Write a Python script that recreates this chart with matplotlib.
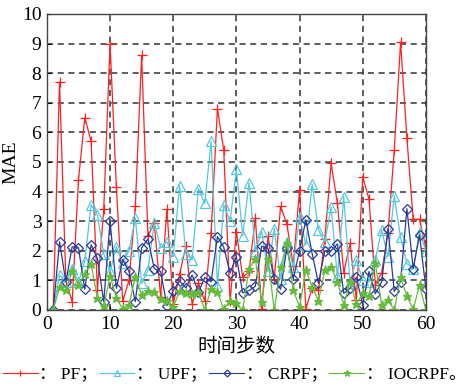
import numpy as np
import matplotlib
matplotlib.use('Agg')
import matplotlib.pyplot as plt

plt.rcParams['font.family'] = ['Liberation Serif', 'Noto Sans CJK SC']

# time steps 1..60
steps = np.arange(1, 61)

pf = [0, 7.7, 1.0, 0.28, 4.4, 6.5, 5.7, 0.68, 3.4, 9.0,
      4.15, 0.3, 1.0, 3.5, 8.6, 2.5, 2.95, 0.45, 3.4, 0.2,
      1.2, 2.15, 0.2, 0.9, 0.3, 2.6, 6.8, 5.4, 0.3, 2.65,
      1.1, 1.3, 3.1, 0.05, 2.5, 1.06, 3.5, 2.9, 1.5, 4.05,
      0.05, 0.73, 0.67, 2.4, 4.95, 3.6, 1.26, 2.25, 0.33, 4.5,
      3.74, 0.85, 1.26, 2.6, 5.4, 9.05, 5.8, 3.06, 3.06, 2.1]

upf = [0, 1.18, 0.95, 1.4, 0.95, 1.67, 3.55, 3.2, 1.9, 1.3,
       2.14, 1.6, 2.0, 3.1, 0.9, 1.35, 2.95, 2.1, 2.3, 1.8,
       4.2, 1.9, 1.7, 4.1, 3.6, 5.7, 0.8, 3.55, 3.0, 4.75,
       2.5, 4.3, 2.0, 2.65, 1.3, 2.75, 1.05, 2.3, 1.46, 3.15,
       2.2, 4.25, 2.7, 2.3, 3.47, 1.1, 3.83, 0.9, 1.7, 1.0,
       0.95, 1.7, 2.7, 1.8, 3.85, 2.45, 1.57, 1.4, 2.65, 2.0]

crpf = [0, 2.3, 0.95, 2.14, 2.1, 0.7, 2.2, 1.74, 0.28, 3.0,
        0.73, 1.7, 1.3, 0.28, 2.1, 2.4, 1.4, 1.3, 0.15, 0.65,
        0.98, 0.75, 1.18, 0.6, 1.1, 0.95, 2.48, 2.12, 1.25, 1.8,
        0.58, 0.66, 0.8, 2.15, 2.08, 1.05, 0.7, 2.1, 1.05, 2.0,
        3.04, 1.9, 0.9, 2.0, 2.0, 2.23, 0.56, 0.73, 1.1, 0.17,
        1.3, 0.55, 0.95, 2.75, 0.63, 0.96, 3.42, 1.4, 2.53, 0.72]

iocrpf = [0, 0.77, 0.66, 1.3, 0.84, 1.22, 1.55, 0.4, 0.12, 1.15,
          0.4, 0.04, 0.18, 1.12, 0.5, 0.64, 0.6, 0.38, 0.3, 0.1,
          0.64, 0.58, 0.54, 0.6, 0.0, 0.72, 0.6, 0.03, 0.32, 0.22,
          0.0, 1.38, 1.72, 0.28, 1.72, 0.0, 1.44, 2.25, 0.68, 0.1,
          1.35, 0.79, 0.3, 1.35, 1.44, 0.96, 0.17, 0.96, 0.2, 0.56,
          0.47, 1.58, 0.17, 0.34, 0.0, 1.1, 0.47, 0.02, 0.84, 0.0]

labels = ['： PF；', '： UPF；', '： CRPF；', '： IOCRPF。']

fig = plt.figure(figsize=(4.69, 3.87), dpi=100)
ax = fig.add_axes([0.100, 0.199, 0.808, 0.765])

h1, = ax.plot(steps, pf, color='#ff2020', lw=0.9, marker='+', ms=7, mew=0.9)
h2, = ax.plot(steps, upf, color='#55c8dd', lw=0.9, marker='^', ms=6.5,
              mfc='none', mew=0.9)
h3, = ax.plot(steps, crpf, color='#2a3a9c', lw=0.9, marker='D', ms=5,
              mfc='none', mew=0.9)
h4, = ax.plot(steps, iocrpf, color='#66bb3c', lw=0.9, marker='*', ms=6.5,
              mew=0.9)

ax.set_xlim(0, 60)
ax.set_ylim(0, 10)
ax.set_xticks(np.arange(0, 61, 10))
ax.set_yticks(np.arange(0, 11, 1))
ax.grid(True, color='#333333', linestyle=(0, (4, 3)), linewidth=1.1)
ax.tick_params(direction='in', length=3, labelsize=14, pad=4)
for s in ax.spines.values():
    s.set_color('#444444')
    s.set_linewidth(1.0)

ax.set_xlabel('时间步数', fontsize=14, labelpad=4)
ax.set_ylabel('MAE', fontsize=14, labelpad=2)

leg = fig.legend([h1, h2, h3, h4], labels, loc='lower center', ncol=4,
                 bbox_to_anchor=(0.5, -0.02), frameon=False, fontsize=12.5,
                 handlelength=2.0, handletextpad=0.1, columnspacing=0.1,
                 markerscale=0.7, borderpad=0.2)
for h in leg.legend_handles:
    h.set_linewidth(0.8)

fig.savefig('out.png', dpi=100)
